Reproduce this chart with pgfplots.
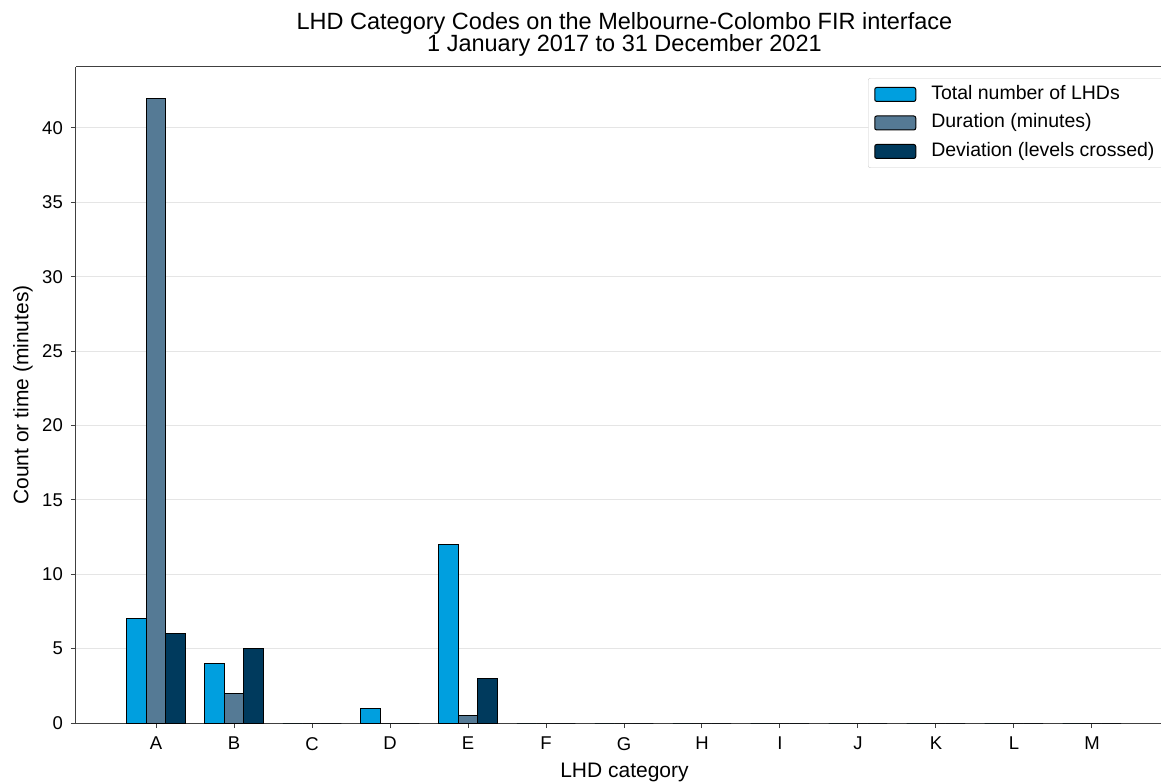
\documentclass[border=0pt]{standalone}
\usepackage{pgfplots}
\pgfplotsset{compat=1.18}
\usepackage{fontspec}
\setmainfont{Liberation Sans}
\definecolor{c1}{HTML}{009FDF}
\definecolor{c2}{HTML}{557A95}
\definecolor{c3}{HTML}{003A5D}
\pgfplotstableread{
x tot dur dev
0 7 42 6
1 4 2 5
2 0 0 0
3 1 0 0
4 12 0.5 3
5 0 0 0
6 0 0 0
7 0 0 0
8 0 0 0
9 0 0 0
10 0 0 0
11 0 0 0
12 0 0 0
}\datatable
\begin{document}
\fontsize{18.5}{22}\selectfont
\begin{tikzpicture}[x=1pt,y=1pt]
\path[use as bounding box] (-76,-59) rectangle (1085,723);
\clip (-76,-59) rectangle (1085,723);
\begin{axis}[
  at={(0,0)}, anchor=south west,
  scale only axis, width=1085pt, height=656pt,
  xmin=-1.026, xmax=12.885, ymin=0, ymax=44.1,
  axis lines*=left,
  axis line style={black!75, line width=1pt},
  xtick={0,...,12}, xticklabels={A,B,C,D,E,F,G,H,I,J,K,L,M},
  ytick={0,5,...,40},
  tick align=outside, major tick length=5pt,
  tick style={black!75, line width=1pt},
  ymajorgrids, grid style={black!10, line width=1pt},
  /pgf/number format/assume math mode=true,
  ticklabel style={font=\fontsize{18.5}{22}\selectfont},
  xticklabel style={inner sep=0pt, anchor=north, yshift=-9pt},
  yticklabel style={inner sep=0pt, anchor=east, xshift=-8pt},
  title={LHD Category Codes on the Melbourne-Colombo FIR interface\\1 January 2017 to 31 December 2021},
  title style={at={(0.5055,1)}, anchor=south, align=center, inner sep=0pt, yshift=4.5pt, font=\fontsize{23.5}{22}\selectfont},
  xlabel={LHD category},
  xlabel style={at={(0.5055,0)}, anchor=north, inner sep=0pt, yshift=-40pt, font=\fontsize{21}{22}\selectfont},
  ylabel={Count or time (minutes)},
  ylabel style={at={(-0.0396,0.5)}, anchor=south, inner sep=0pt, font=\fontsize{21}{22}\selectfont},
  legend style={at={(0.730,0.9832)}, anchor=north west, draw=black!20, rounded corners=2pt,
    font=\fontsize{19.5}{22}\selectfont, row sep=10pt, inner xsep=6pt, inner ysep=7pt,
    nodes={inner xsep=4pt, inner ysep=0pt, text height=14pt, text depth=4.5pt},
    /tikz/every odd column/.append style={column sep=11pt}},
  legend cell align=left,
  legend image code/.code={\draw[#1, line width=1pt] (0pt,-7pt) rectangle (41pt,7pt);},
]
\draw[black!75, line width=1pt] (rel axis cs:0,1) -- (rel axis cs:1,1);
\addplot[ybar, bar width=0.25, bar shift=-0.25, fill=c1, draw=black, line width=1pt] table[x=x,y=tot] {\datatable};
\addplot[ybar, bar width=0.25, bar shift=0, fill=c2, draw=black, line width=1pt] table[x=x,y=dur] {\datatable};
\addplot[ybar, bar width=0.25, bar shift=0.25, fill=c3, draw=black, line width=1pt] table[x=x,y=dev] {\datatable};
\legend{Total number of LHDs, Duration (minutes), Deviation (levels crossed)}
\end{axis}
\end{tikzpicture}
\end{document}
